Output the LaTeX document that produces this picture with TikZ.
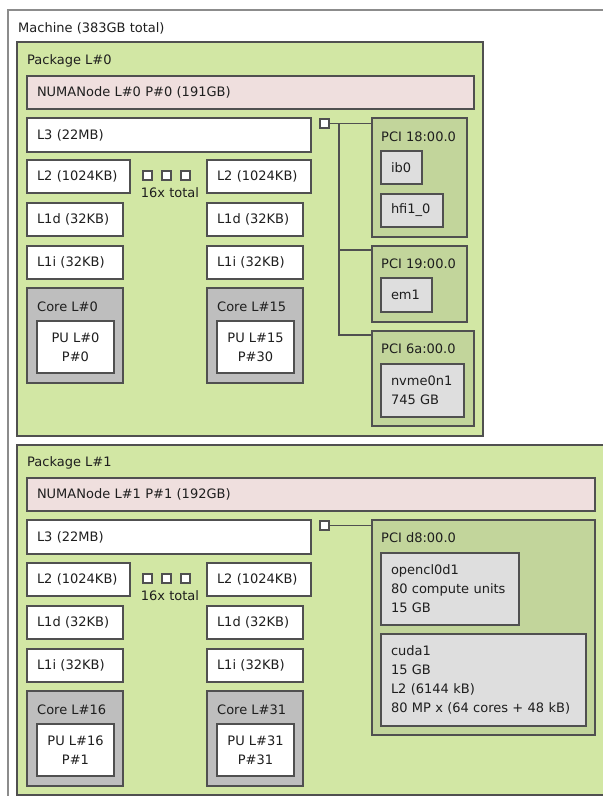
\documentclass[tikz,border=0pt]{standalone}
\usepackage{fontspec}
\setmainfont{DejaVu Sans}
\definecolor{lnc}{HTML}{505050}
\definecolor{mgray}{HTML}{8C8C8C}
\definecolor{txc}{HTML}{1E1E1E}
\definecolor{pkgfill}{HTML}{D2E7A4}
\definecolor{numafill}{HTML}{EFDFDE}
\definecolor{corefill}{HTML}{BEBEBE}
\definecolor{pcifill}{HTML}{C2D59B}
\definecolor{osfill}{HTML}{DEDEDE}
\newcommand\tbox[7]{%
  \pgfmathsetmacro\bw{#5-#3-20}\pgfmathsetmacro\bh{#6-#4}%
  \node[box, fill=#2, text width=\bw pt, align=left, inner xsep=10pt, minimum height=\bh pt, txt] (#1) at (#3,#4) {#7};}
\newcommand\ebox[6]{%
  \pgfmathsetmacro\bw{#5-#3}\pgfmathsetmacro\bh{#6-#4}%
  \node[box, fill=#2, minimum width=\bw pt, minimum height=\bh pt] (#1) at (#3,#4) {};}
\newcommand\cbox[7]{%
  \pgfmathsetmacro\bw{#5-#3}\pgfmathsetmacro\bh{#6-#4}%
  \node[box, fill=#2, minimum width=\bw pt, minimum height=\bh pt, align=center, txt] (#1) at (#3,#4) {#7};}
\newcommand\lab[4]{\node[txt, anchor=west, inner sep=0pt] (#1) at (#2,#3) {#4};}
\begin{document}
\begin{tikzpicture}[x=1pt,y=-1pt,
  box/.style={draw=lnc, line width=1.2pt, inner sep=0pt, outer sep=0pt, anchor=north west},
  txt/.style={font=\fontsize{13}{19}\selectfont, text=txc},
  wire/.style={draw=lnc, line width=1.2pt}]
\useasboundingbox (0,0) rectangle (603,796);
\clip (0,0) rectangle (603,796);
\fill[white] (0,0) rectangle (603,796);
% Machine
\node[box, draw=mgray, fill=white, minimum width=700pt, minimum height=900pt] (machine) at (8,10) {};
\lab{mlab}{18}{28}{Machine (383GB total)}
% ---------- Package 0
\ebox{pkg0}{pkgfill}{17}{42}{483}{436}
\lab{pkg0lab}{27}{61}{Package L\#0}
\tbox{numa0}{numafill}{27}{76}{474}{109}{NUMANode L\#0 P\#0 (191GB)}
\tbox{l3a}{white}{27}{118}{311}{152}{L3 (22MB)}
\tbox{l2a}{white}{27}{160}{130}{193}{L2 (1024KB)}
\tbox{l2b}{white}{207}{160}{311}{193}{L2 (1024KB)}
\ebox{da1}{white}{143}{171}{152}{180}
\ebox{da2}{white}{162}{171}{171}{180}
\ebox{da3}{white}{181}{171}{190}{180}
\node[txt, inner sep=0pt] (tot0) at (170,193) {16x total};
\tbox{l1da}{white}{27}{203}{123}{236}{L1d (32KB)}
\tbox{l1db}{white}{207}{203}{303}{236}{L1d (32KB)}
\tbox{l1ia}{white}{27}{246}{123}{279}{L1i (32KB)}
\tbox{l1ib}{white}{207}{246}{303}{279}{L1i (32KB)}
\ebox{corea}{corefill}{27}{288}{123}{383}
\lab{corealab}{37}{307}{Core L\#0}
\cbox{pua}{white}{37}{321}{114}{373}{PU L\#0\\P\#0}
\ebox{coreb}{corefill}{207}{288}{303}{383}
\lab{coreblab}{217}{307}{Core L\#15}
\cbox{pub}{white}{217}{321}{294}{373}{PU L\#15\\P\#30}
% PCI tree 0
\ebox{sq0}{white}{320}{119}{329}{128}
\ebox{pci18}{pcifill}{372}{118}{467}{237}
\lab{pci18lab}{381}{137}{PCI 18:00.0}
\tbox{ib0}{osfill}{381}{151}{422}{184}{ib0}
\tbox{hfi}{osfill}{381}{194}{443}{227}{hfi1\_0}
\ebox{pci19}{pcifill}{372}{246}{467}{322}
\lab{pci19lab}{381}{264}{PCI 19:00.0}
\tbox{em1}{osfill}{381}{278}{432}{312}{em1}
\ebox{pci6a}{pcifill}{372}{331}{474}{426}
\lab{pci6alab}{381}{349}{PCI 6a:00.0}
\tbox{nvme}{osfill}{381}{364}{464}{417}{nvme0n1\\745 GB}
\coordinate (t0) at (339,123.5);
\draw[wire] (sq0.east) -- (sq0.east -| pci18.west);
\draw[wire] (t0) |- ([yshift=-4pt]pci19.north west);
\draw[wire] (t0) |- ([yshift=-4pt]pci6a.north west);
% ---------- Package 1
\ebox{pkg1}{pkgfill}{17}{445}{700}{795}
\lab{pkg1lab}{27}{463}{Package L\#1}
\tbox{numa1}{numafill}{27}{478}{595}{511}{NUMANode L\#1 P\#1 (192GB)}
\tbox{l3b}{white}{27}{520}{311}{554}{L3 (22MB)}
\tbox{l2c}{white}{27}{563}{130}{596}{L2 (1024KB)}
\tbox{l2d}{white}{207}{563}{311}{596}{L2 (1024KB)}
\ebox{db1}{white}{143}{574}{152}{583}
\ebox{db2}{white}{162}{574}{171}{583}
\ebox{db3}{white}{181}{574}{190}{583}
\node[txt, inner sep=0pt] (tot1) at (170,596) {16x total};
\tbox{l1dc}{white}{27}{606}{123}{639}{L1d (32KB)}
\tbox{l1dd}{white}{207}{606}{303}{639}{L1d (32KB)}
\tbox{l1ic}{white}{27}{649}{123}{682}{L1i (32KB)}
\tbox{l1id}{white}{207}{649}{303}{682}{L1i (32KB)}
\ebox{corec}{corefill}{27}{691}{123}{786}
\lab{coreclab}{37}{710}{Core L\#16}
\cbox{puc}{white}{37}{724}{114}{776}{PU L\#16\\P\#1}
\ebox{cored}{corefill}{207}{691}{303}{786}
\lab{coredlab}{217}{710}{Core L\#31}
\cbox{pud}{white}{217}{724}{294}{776}{PU L\#31\\P\#31}
% PCI tree 1
\ebox{sq1}{white}{320}{521}{329}{530}
\ebox{pcid8}{pcifill}{372}{520}{595}{735}
\lab{pcid8lab}{381}{538}{PCI d8:00.0}
\tbox{ocl}{osfill}{381}{553}{519}{625}{opencl0d1\\80 compute units\\15 GB}
\tbox{cuda}{osfill}{381}{634}{586}{726}{cuda1\\15 GB\\L2 (6144 kB)\\80 MP x (64 cores + 48 kB)}
\draw[wire] (sq1.east) -- (sq1.east -| pcid8.west);
\end{tikzpicture}
\end{document}
